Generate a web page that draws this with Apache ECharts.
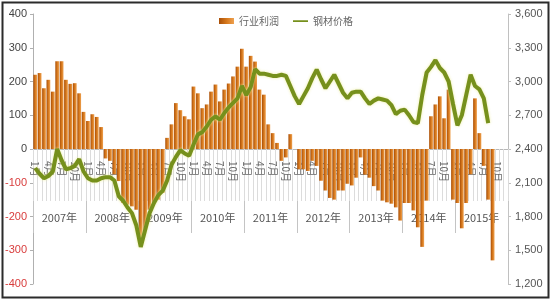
<!DOCTYPE html>
<html>
<head>
<meta charset="utf-8">
<script src="https://cdn.jsdelivr.net/npm/echarts@6/dist/echarts.min.js"></script>
<style>
html,body{margin:0;padding:0;background:#fff;}
#c{width:550px;height:300px;}
</style>
</head>
<body>
<div id="c"></div>
<script>
// ---- data ----
var years = ['2007', '2008', '2009', '2010', '2011', '2012', '2013', '2014', '2015'];
var monthNames = ['1月','2月','3月','4月','5月','6月','7月','8月','9月','10月','11月','12月'];
var leftTicks = [-400, 400, 100];
var rightTicks = [1200, 3600, 300];

// 行业利润 (monthly, Jan 2007 - Dec 2015)
var profit = [
  220, 225, 180, 205, 170, 260, 260, 205, 193, 195, 165, 110,
  83, 103, 95, 65, -28, -35, -75, -95, -160, -165, -170, -180,
  -270, -240, -180, -160, -150, -130, 33, 73, 136, 115, 97, 88,
  185, 165, 121, 132, 170, 191, 141, 176, 194, 215, 244, 297,
  244, 276, 259, 176, 161, 73, 47, 18, -35, -25, 44, 0,
  -60, -60, -65, -35, -50, -94, -123, -145, -150, -123, -123, -103,
  -108, -85, -25, -76, -85, -110, -123, -153, -158, -162, -173, -212,
  -160, -160, -182, -232, -290, -153, 97, 132, 156, 91, 176, -150,
  -160, -235, -160, -75, 150, 47, -50, -150, -330, null, null, null
];
// 钢材价格 (monthly)
var price = [
  2230, 2180, 2140, 2160, 2200, 2400, 2300, 2220, 2230, 2250, 2310, 2200,
  2140, 2120, 2120, 2140, 2150, 2150, 2120, 1980, 1940, 1880, 1830, 1720,
  1530, 1680, 1830, 1920, 1990, 2030, 2120, 2260, 2330, 2390, 2360, 2340,
  2440, 2530, 2550, 2600, 2660, 2690, 2660, 2720, 2770, 2810, 2850, 2960,
  2880, 2950, 3110, 3070, 3070, 3060, 3050, 3050, 3060, 3050, 2960, 2870,
  2800, 2870, 2940, 3030, 3105, 3020, 2940, 3000, 3060, 2980, 2900, 2850,
  2900, 2910, 2910, 2850, 2800, 2830, 2850, 2840, 2830, 2790, 2710, 2740,
  2750, 2700, 2640, 2630, 2880, 3080, 3130, 3190, 3120, 3080, 3000, 2800,
  2610, 2700, 2880, 3060, 2960, 2930, 2850, 2630, null, null, null, null
];

// categories built from years x months
var categories = [];
years.forEach(function (y) { monthNames.forEach(function (m) { categories.push(y + '-' + m); }); });
var yearLabels = years.map(function (y) { return y + '年'; });

var GRID_TOP = 14, GRID_BOTTOM = 16, H = 300;
var zeroOffset = -((H - GRID_TOP - GRID_BOTTOM) / 2);

var chart = echarts.init(document.getElementById('c'));
var txt = '#555';
var lineIcon = 'path://M0,0L0.01,0L0.01,0.01Z M0,2.2L16,2.2L16,4.2L0,4.2Z M0,6L0.01,6L0.01,5.99Z';
var option = {
  animation: false,
  backgroundColor: '#fff',
  textStyle: { fontFamily: 'Liberation Sans, Arial, sans-serif' },
  legend: {
    top: 11, left: 214,
    itemGap: 14,
    itemWidth: 15, itemHeight: 6,
    textStyle: { fontFamily: 'Noto Sans CJK SC', fontSize: 10, color: '#666' },
    data: [{ name: '行业利润', icon: 'rect' }, { name: '钢材价格', icon: lineIcon }]
  },
  grid: { left: 33, right: 42, top: GRID_TOP, bottom: GRID_BOTTOM, containLabel: false, outerBoundsMode: 'none' },
  xAxis: [
    {
      type: 'category',
      data: categories,
      boundaryGap: true,
      position: 'bottom',
      offset: zeroOffset,
      axisLine: { onZero: false, lineStyle: { color: '#b8b8b8', width: 1 } },
      axisTick: { show: true, interval: 0, length: 52, lineStyle: { color: '#dcdcdc' } },
      axisLabel: {
        interval: function (i) { return i % 3 === 0; },
        rotate: -90,
        margin: 12,
        fontSize: 10,
        color: '#666',
        fontFamily: 'Noto Sans CJK SC',
        formatter: function (v) { return v.split('-')[1]; }
      },
      splitLine: { show: false },
      z: 1
    },
    {
      type: 'category',
      data: yearLabels,
      boundaryGap: true,
      position: 'bottom',
      offset: zeroOffset,
      axisLine: { onZero: false, show: true, lineStyle: { color: '#b8b8b8' } },
      axisTick: { show: true, length: 84, lineStyle: { color: '#c4c4c4' } },
      axisLabel: { margin: 63, fontSize: 11, color: txt, fontFamily: 'Noto Sans CJK SC' },
      splitLine: { show: false }
    }
  ],
  yAxis: [
    {
      type: 'value',
      min: leftTicks[0], max: leftTicks[1], interval: leftTicks[2],
      position: 'left',
      axisLine: { show: true, lineStyle: { color: '#b0b0b0' } },
      axisTick: { show: true, length: 3, lineStyle: { color: '#b0b0b0' } },
      splitLine: { show: false },
      axisLabel: {
        margin: 6, fontSize: 11,
        color: function (v) { return Number(v) < 0 ? '#d83c3c' : '#444'; }
      }
    },
    {
      type: 'value',
      min: rightTicks[0], max: rightTicks[1], interval: rightTicks[2],
      position: 'right',
      axisLine: { show: true, lineStyle: { color: '#c0c0c0' } },
      axisTick: { show: true, length: 3, lineStyle: { color: '#c0c0c0' } },
      splitLine: { show: false },
      axisLabel: {
        margin: 7, fontSize: 11, color: '#555',
        formatter: function (v) { return String(v).replace(/\B(?=(\d{3})+(?!\d))/g, ','); }
      }
    }
  ],
  series: [
    {
      name: '行业利润',
      type: 'bar',
      xAxisIndex: 0, yAxisIndex: 0,
      data: profit,
      barCategoryGap: '14%',
      itemStyle: {
        color: {
          type: 'linear', x: 0, y: 0, x2: 1, y2: 0,
          colorStops: [
            { offset: 0, color: '#a94f08' },
            { offset: 0.5, color: '#d6781c' },
            { offset: 1, color: '#eea150' }
          ]
        }
      },
      z: 2
    },
    {
      name: '钢材价格',
      type: 'line',
      xAxisIndex: 0, yAxisIndex: 1,
      data: price,
      symbol: 'none',
      connectNulls: false,
      lineStyle: {
        color: '#76901c', width: 4,
        shadowColor: 'rgba(235,235,150,0.9)', shadowBlur: 3
      },
      itemStyle: { color: '#76901c' },
      z: 3
    }
  ],
  graphic: [
    {
      type: 'rect', left: 0, top: 0, z: 100, silent: true,
      shape: { x: 1, y: 1, width: 546, height: 295 },
      style: { fill: 'none', stroke: '#2b2b2b', lineWidth: 2 }
    }
  ]
};
chart.setOption(option);
</script>
</body>
</html>
